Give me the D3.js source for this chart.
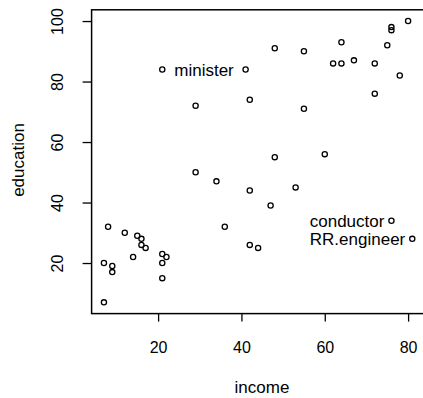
<!DOCTYPE html>
<html>
<head>
<meta charset="utf-8">
<script src="https://cdn.jsdelivr.net/npm/d3@7/dist/d3.min.js"></script>
<style>
  html, body { margin: 0; padding: 0; background: #fff; }
  svg { display: block; font-family: "Liberation Sans", Arial, Helvetica, sans-serif; }
</style>
</head>
<body>
<svg id="chart" width="423" height="398"></svg>
<script>
// Duncan occupational data: income and education per occupation
const occupations = ["accountant","pilot","architect","author","chemist","minister","professor","dentist","reporter","engineer","undertaker","lawyer","physician","welfare.worker","teacher","conductor","contractor","factory.owner","store.manager","banker","bookkeeper","mail.carrier","insurance.agent","store.clerk","carpenter","electrician","RR.engineer","machinist","auto.repairman","plumber","gas.stn.attendant","coal.miner","streetcar.motorman","taxi.driver","truck.driver","machine.operator","barber","bartender","shoe.shiner","cook","soda.clerk","watchman","janitor","policeman","waiter"];
const income = [62,72,75,55,64,21,64,80,67,72,42,76,76,41,48,76,53,60,42,78,29,48,55,29,21,47,81,36,22,44,15,7,42,9,21,21,16,16,9,14,12,17,7,34,8];
const education = [86,76,92,90,86,84,93,100,87,86,74,98,97,84,91,34,45,56,44,82,72,55,71,50,23,39,28,32,22,25,29,7,26,19,15,20,26,28,17,22,30,25,20,47,32];
const xTicks = [20, 40, 60, 80];
const yTicks = [20, 40, 60, 80, 100];
// labelled occupations and the side their label sits on
const labelled = ["minister", "conductor", "RR.engineer"];
const labelSide = ["right", "left", "left"];

const svg = d3.select("#chart");

// padded extents of the data (4% each side)
function padded(v) {
  const [lo, hi] = d3.extent(v);
  const p = (hi - lo) * 0.04;
  return [lo - p, hi + p];
}

const x = d3.scaleLinear().domain(padded(income)).range([91.6, 424.6]);
const y = d3.scaleLinear().domain(padded(education)).range([313.6, 9.8]);

const [x0, x1] = x.range();
const [y0, y1] = y.range();

// plot frame
svg.append("rect")
  .attr("x", x0).attr("y", y1)
  .attr("width", x1 - x0).attr("height", y0 - y1)
  .attr("fill", "none").attr("stroke", "#000").attr("stroke-width", 1.5);

// x axis
const xAxis = svg.append("g")
  .attr("transform", `translate(0,${y0})`)
  .call(d3.axisBottom(x).tickValues(xTicks).tickSize(8).tickPadding(14).tickFormat(d3.format("d")));
xAxis.select(".domain").remove();
xAxis.selectAll("line").attr("stroke", "#000").attr("stroke-width", 1.3);
xAxis.selectAll("text")
  .attr("fill", "#000").attr("font-size", 16).attr("dy", null)
  .attr("y", 39).attr("transform", null);

// y axis
const yAxis = svg.append("g")
  .attr("transform", `translate(${x0},0)`)
  .call(d3.axisLeft(y).tickValues(yTicks).tickSize(9).tickFormat(d3.format("d")));
yAxis.select(".domain").remove();
yAxis.selectAll("line").attr("stroke", "#000").attr("stroke-width", 1.3);
yAxis.selectAll("text")
  .attr("fill", "#000").attr("font-size", 16)
  .attr("x", null).attr("dy", null)
  .attr("text-anchor", "middle")
  .attr("transform", `translate(${63 - x0},0) rotate(-90)`);

// axis titles
svg.append("text")
  .attr("x", 262).attr("y", 393)
  .attr("text-anchor", "middle").attr("font-size", 17)
  .text("income");

svg.append("text")
  .attr("transform", `translate(24,${160}) rotate(-90)`)
  .attr("text-anchor", "middle").attr("font-size", 17)
  .text("education");

// points
const idx = d3.range(occupations.length);
svg.append("g")
  .selectAll("circle")
  .data(idx)
  .join("circle")
  .attr("cx", i => x(income[i]))
  .attr("cy", i => y(education[i]))
  .attr("r", 2.6)
  .attr("fill", "none")
  .attr("stroke", "#000")
  .attr("stroke-width", 1.3);

// labels for selected occupations
svg.append("g")
  .selectAll("text")
  .data(labelled)
  .join("text")
  .attr("x", (d, k) => {
    const i = occupations.indexOf(d);
    return labelSide[k] === "right" ? x(income[i]) + 12 : x(income[i]) - 7;
  })
  .attr("y", d => y(education[occupations.indexOf(d)]))
  .attr("dy", "0.36em")
  .attr("text-anchor", (d, k) => labelSide[k] === "right" ? "start" : "end")
  .attr("font-size", 17)
  .text(d => d);
</script>
</body>
</html>
